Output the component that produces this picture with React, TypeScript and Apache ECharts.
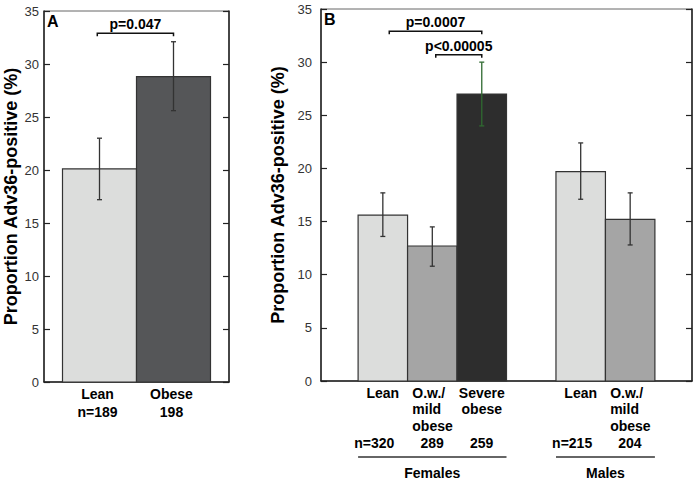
import React, { useEffect, useRef } from "react";
import * as echarts from "echarts";

// ---- Panel A data ----
const panelACategories = ["Lean", "Obese"];
const panelANs = ["n=189", "198"];
const panelAPositions = [0.75, 1.75];
const panelAValues = [20.1, 28.8];
const panelALow = [17.2, 25.6];
const panelAHigh = [23.0, 32.1];
const panelABrackets = [[0.72, 1.75, 32.9]];
const panelABracketLabels = ["p=0.047"];

// ---- Panel B data ----
const panelBCategories = ["Lean", "O.w./\nmild\nobese", "Severe\nobese", "Lean", "O.w./\nmild\nobese"];
const panelBNs = ["n=320", "289", "259", "n=215", "204"];
const panelBPositions = [1.25, 2.25, 3.25, 5.25, 6.25];
const panelBValues = [15.6, 12.7, 27.0, 19.7, 15.2];
const panelBLow = [13.6, 10.8, 24.0, 17.1, 12.8];
const panelBHigh = [17.7, 14.5, 30.0, 22.4, 17.7];
const panelBBrackets = [
  [1.38, 3.25, 32.9],
  [2.32, 3.25, 30.7],
];
const panelBBracketLabels = ["p=0.0007", "p<0.00005"];
const panelBGroups = ["Females", "Males"];
const panelBGroupStart = [0, 3];
const panelBGroupEnd = [2, 4];

const yTitle = "Proportion Adv36-positive (%)";

// ---- styles ----
const FONT = "Liberation Sans, Arial, Helvetica, sans-serif";
const colorsA = ["#dcdddc", "#555658"];
const colorsB = ["#dcdddc", "#a5a5a5", "#2d2d2d", "#dcdddc", "#a5a5a5"];
const errColorsA = ["#333333", "#333333"];
const errColorsB = ["#333333", "#333333", "#2f6a30", "#333333", "#333333"];

function barSeries(p: number, positions: number[], values: number[], colors: string[]) {
  return {
    type: "custom",
    xAxisIndex: p,
    yAxisIndex: p * 2,
    clip: false,
    z: 2,
    data: values.map((v, i) => [positions[i], v]),
    renderItem: (params: any, api: any) => {
      const x = api.value(0);
      const y = api.value(1);
      const a = api.coord([x - 0.5, y]);
      const b = api.coord([x + 0.5, 0]);
      return {
        type: "rect",
        shape: { x: a[0], y: a[1], width: b[0] - a[0], height: b[1] - a[1] },
        style: { fill: colors[params.dataIndex], stroke: "#333333", lineWidth: 1.2 },
      };
    },
  };
}

function errSeries(p: number, positions: number[], low: number[], high: number[], colors: string[]) {
  return {
    type: "custom",
    xAxisIndex: p,
    yAxisIndex: p * 2,
    clip: false,
    z: 3,
    data: low.map((l, i) => [positions[i], l, high[i]]),
    renderItem: (params: any, api: any) => {
      const x = api.value(0);
      const a = api.coord([x, api.value(1)]);
      const b = api.coord([x, api.value(2)]);
      const c = colors[params.dataIndex];
      const st = { stroke: c, lineWidth: 1.3 };
      const cap = 2.5;
      return {
        type: "group",
        children: [
          { type: "line", shape: { x1: a[0], y1: a[1], x2: b[0], y2: b[1] }, style: st },
          { type: "line", shape: { x1: a[0] - cap, y1: a[1], x2: a[0] + cap, y2: a[1] }, style: st },
          { type: "line", shape: { x1: b[0] - cap, y1: b[1], x2: b[0] + cap, y2: b[1] }, style: st },
        ],
      };
    },
  };
}

function bracketSeries(p: number, brackets: number[][], labels: string[]) {
  return {
    type: "custom",
    xAxisIndex: p,
    yAxisIndex: p * 2,
    clip: false,
    z: 3,
    data: brackets,
    renderItem: (params: any, api: any) => {
      const y = api.value(2);
      const a = api.coord([api.value(0), y]);
      const b = api.coord([api.value(1), y]);
      return {
        type: "group",
        children: [
          {
            type: "polyline",
            shape: { points: [[a[0], a[1] + 3], [a[0], a[1]], [b[0], b[1]], [b[0], b[1] + 3]] },
            style: { stroke: "#111111", lineWidth: 1.5, fill: null },
          },
          {
            type: "text",
            style: {
              text: labels[params.dataIndex],
              x: (a[0] + b[0]) / 2,
              y: a[1] - 2,
              align: "center",
              verticalAlign: "bottom",
              fontFamily: FONT,
              fontWeight: "bold",
              fontSize: 14,
              fill: "#000000",
            },
          },
        ],
      };
    },
  };
}

function labelSeriesA() {
  return {
    type: "custom",
    xAxisIndex: 0,
    yAxisIndex: 0,
    clip: false,
    data: panelAPositions.map((x) => [x, 0]),
    renderItem: (params: any, api: any) => {
      const c = api.coord([api.value(0), 0]);
      const i = params.dataIndex;
      return {
        type: "text",
        style: {
          text: panelACategories[i] + "\n" + panelANs[i],
          x: c[0] - 2,
          y: c[1] + 3.5,
          align: "center",
          verticalAlign: "top",
          lineHeight: 17.5,
          fontFamily: FONT,
          fontWeight: "bold",
          fontSize: 14,
          fill: "#000000",
        },
      };
    },
  };
}

function labelSeriesB() {
  return {
    type: "custom",
    xAxisIndex: 1,
    yAxisIndex: 2,
    clip: false,
    data: panelBPositions.map((x) => [x, 0]),
    renderItem: (params: any, api: any) => {
      const c = api.coord([api.value(0), 0]);
      const i = params.dataIndex;
      const cat = panelBCategories[i];
      const leftBlock = cat.indexOf("O.w.") === 0;
      const base = { fontFamily: FONT, fontWeight: "bold", fontSize: 14, fill: "#000000" };
      return {
        type: "group",
        children: [
          {
            type: "text",
            style: {
              ...base,
              text: cat,
              x: leftBlock ? c[0] - 20 : c[0],
              y: c[1] + 3.5,
              align: leftBlock ? "left" : "center",
              verticalAlign: "top",
              lineHeight: 16.5,
            },
          },
          {
            type: "text",
            style: {
              ...base,
              text: panelBNs[i],
              x: c[0] + 11.5,
              y: c[1] + 61.5,
              align: "right",
              verticalAlign: "middle",
              lineHeight: 14,
            },
          },
        ],
      };
    },
  };
}

function groupSeriesB() {
  return {
    type: "custom",
    xAxisIndex: 1,
    yAxisIndex: 2,
    clip: false,
    data: panelBGroups.map((g, i) => [panelBPositions[panelBGroupStart[i]], panelBPositions[panelBGroupEnd[i]]]),
    renderItem: (params: any, api: any) => {
      const a = api.coord([api.value(0) - 0.5, 0]);
      const b = api.coord([api.value(1) + 0.5, 0]);
      return {
        type: "group",
        children: [
          {
            type: "line",
            shape: { x1: a[0], y1: a[1] + 76, x2: b[0], y2: b[1] + 76 },
            style: { stroke: "#333333", lineWidth: 1.5 },
          },
          {
            type: "text",
            style: {
              text: panelBGroups[params.dataIndex],
              x: (a[0] + b[0]) / 2,
              y: a[1] + 92,
              align: "center",
              verticalAlign: "middle",
              fontFamily: FONT,
              fontWeight: "bold",
              fontSize: 14,
              fill: "#000000",
            },
          },
        ],
      };
    },
  };
}

function yAxes(grid: number, nameGap: number, labelMargin: number) {
  const line = { show: true, lineStyle: { color: "#222222", width: 1.5 } };
  const tick = { show: true, inside: true, length: 6, lineStyle: { color: "#222222", width: 1.2 } };
  return [
    {
      type: "value",
      gridIndex: grid,
      position: "left",
      min: 0,
      max: 35,
      interval: 5,
      axisLine: line,
      axisTick: tick,
      splitLine: { show: false },
      axisLabel: { margin: labelMargin, color: "#333333", fontSize: 13, fontFamily: FONT },
      name: yTitle,
      nameLocation: "middle",
      nameGap: nameGap,
      nameTextStyle: { fontFamily: FONT, fontWeight: "bold", fontSize: 18, color: "#000000" },
    },
    {
      type: "value",
      gridIndex: grid,
      position: "right",
      min: 0,
      max: 35,
      interval: 5,
      axisLine: line,
      axisTick: tick,
      splitLine: { show: false },
      axisLabel: { show: false },
    },
  ];
}

function xAxis(grid: number, max: number) {
  return {
    type: "value",
    gridIndex: grid,
    min: 0,
    max: max,
    axisLine: { show: true, onZero: false, lineStyle: { color: "#222222", width: 1.5 } },
    axisTick: { show: false },
    axisLabel: { show: false },
    splitLine: { show: false },
  };
}

export default function App() {
  const ref = useRef<HTMLDivElement>(null);
  useEffect(() => {
    if (!ref.current) return;
    const chart = echarts.init(ref.current, null, { renderer: "svg" });
    chart.setOption({
      animation: false,
      backgroundColor: "#ffffff",
      textStyle: { fontFamily: FONT },
      grid: [
        { left: 44, top: 11, width: 185, height: 371, show: true, borderColor: "#666666", borderWidth: 1 },
        { left: 321, top: 9, width: 371, height: 372, show: true, borderColor: "#666666", borderWidth: 1 },
      ],
      xAxis: [xAxis(0, 2.5), xAxis(1, 7.5)],
      yAxis: [...yAxes(0, 24, 5), ...yAxes(1, 32, 9)],
      graphic: [
        {
          type: "text",
          left: 47,
          top: 13,
          style: { text: "A", fontFamily: FONT, fontWeight: "bold", fontSize: 16, fill: "#000000" },
        },
        {
          type: "text",
          left: 324,
          top: 11,
          style: { text: "B", fontFamily: FONT, fontWeight: "bold", fontSize: 16, fill: "#000000" },
        },
      ],
      series: [
        barSeries(0, panelAPositions, panelAValues, colorsA),
        errSeries(0, panelAPositions, panelALow, panelAHigh, errColorsA),
        bracketSeries(0, panelABrackets, panelABracketLabels),
        labelSeriesA(),
        barSeries(1, panelBPositions, panelBValues, colorsB),
        errSeries(1, panelBPositions, panelBLow, panelBHigh, errColorsB),
        bracketSeries(1, panelBBrackets, panelBBracketLabels),
        labelSeriesB(),
        groupSeriesB(),
      ],
    });
    return () => chart.dispose();
  }, []);
  return <div ref={ref} style={{ position: "absolute", left: 0, top: 0, width: 697, height: 481 }} />;
}
